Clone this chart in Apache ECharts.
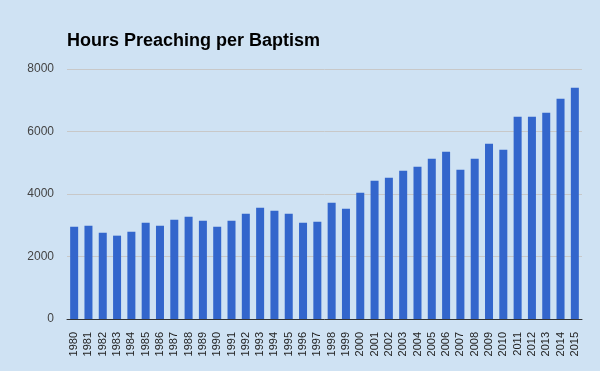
<!DOCTYPE html>
<html><head><meta charset="utf-8">
<script src="https://cdn.jsdelivr.net/npm/echarts@6/dist/echarts.min.js"></script>
<style>html,body{margin:0;padding:0;background:#cfe2f3}#c{width:600px;height:371px}</style>
</head><body><div id="c"></div>
<script>
var years = ['1980','1981','1982','1983','1984','1985','1986','1987','1988','1989','1990','1991','1992','1993','1994','1995','1996','1997','1998','1999','2000','2001','2002','2003','2004','2005','2006','2007','2008','2009','2010','2011','2012','2013','2014','2015'];
var hours = [2955,2987,2763,2667,2795,3083,2987,3179,3275,3147,2955,3147,3371,3563,3467,3371,3083,3115,3723,3531,4043,4427,4523,4747,4875,5131,5355,4779,5131,5611,5419,6475,6475,6603,7051,7403];
var yTicks = [0,2000,4000,6000,8000];
var chart = echarts.init(document.getElementById('c'));
chart.setOption({
  backgroundColor:'#cfe2f3',
  animation:false,
  title:{text:'Hours Preaching per Baptism',left:62,top:27,padding:5,textStyle:{fontFamily:'Liberation Sans, Arial',fontSize:18,fontWeight:'bold',color:'#000'}},
  grid:{left:67,right:18,top:69,bottom:52},
  xAxis:{type:'category',data:years,
    axisLine:{lineStyle:{color:'#333',width:1}},axisTick:{show:false},
    axisLabel:{rotate:90,interval:0,margin:13,fontFamily:'Liberation Sans, Arial',fontSize:11,color:'#222'}},
  yAxis:{type:'value',min:yTicks[0],max:yTicks[yTicks.length-1],interval:2000,
    axisLine:{show:false},axisTick:{show:false},
    splitLine:{lineStyle:{color:'#c8c8c8'}},
    axisLabel:{margin:13,fontFamily:'Liberation Sans, Arial',fontSize:12,color:'#444',formatter:function(v){return String(v);}}},
  series:[{type:'bar',data:hours,barWidth:8,itemStyle:{color:'#3366cc'}}]
});
</script></body></html>
